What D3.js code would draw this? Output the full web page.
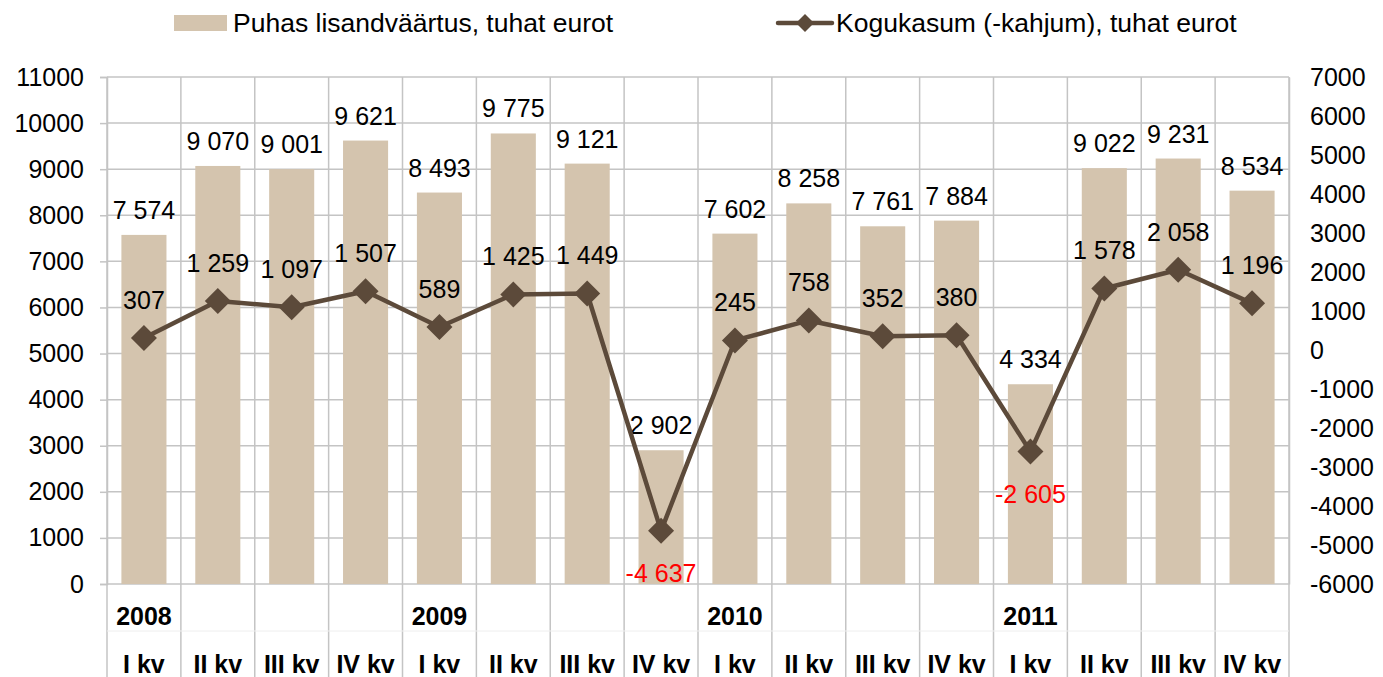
<!DOCTYPE html>
<html><head><meta charset="utf-8">
<script src="https://cdn.jsdelivr.net/npm/d3@7"></script>
<style>body{margin:0;background:#fff;} text{font-family:"Liberation Sans",Arial,sans-serif;}</style>
</head><body><svg id="c" width="1383" height="677"></svg>
<script>
const quarters = ["I kv","II kv","III kv","IV kv","I kv","II kv","III kv","IV kv","I kv","II kv","III kv","IV kv","I kv","II kv","III kv","IV kv"];
const years = ["2008","","","","2009","","","","2010","","","","2011","","",""];
const barValues = [7574,9070,9001,9621,8493,9775,9121,2902,7602,8258,7761,7884,4334,9022,9231,8534];
const lineValues = [307,1259,1097,1507,589,1425,1449,-4637,245,758,352,380,-2605,1578,2058,1196];
const leftTicks = [0,1000,2000,3000,4000,5000,6000,7000,8000,9000,10000,11000];
const rightTicks = [-6000,-5000,-4000,-3000,-2000,-1000,0,1000,2000,3000,4000,5000,6000,7000];
const barName = "Puhas lisandväärtus, tuhat eurot";
const lineName = "Kogukasum (-kahjum), tuhat eurot";

const svg = d3.select("#c");
const L = 107, R = 1289, T = 77, B = 584;
const barColor = "#D4C4AE", lineColor = "#5C4A3A", grid = "#C4C4C4";
const idx = d3.range(barValues.length);
const x = d3.scaleBand().domain(idx).range([L, R]).paddingInner(0).paddingOuter(0);
const yL = d3.scaleLinear().domain([0, 11000]).range([B, T]);
const yR = d3.scaleLinear().domain([-6000, 7000]).range([B, T]);
const fmt = v => (v < 0 ? "-" : "") + d3.format(",")(Math.abs(v)).replace(/,/g, " ");

// horizontal gridlines
svg.append("g").selectAll("line").data(leftTicks).join("line")
  .attr("x1", L).attr("x2", R).attr("y1", d => yL(d)).attr("y2", d => yL(d))
  .attr("stroke", grid).attr("stroke-width", 1.5);
// vertical category lines
svg.append("g").selectAll("line").data(d3.range(barValues.length + 1)).join("line")
  .attr("x1", d => L + d * x.bandwidth()).attr("x2", d => L + d * x.bandwidth())
  .attr("y1", T).attr("y2", 677)
  .attr("stroke", grid).attr("stroke-width", 1.5);
// faint separator between year and quarter rows
svg.append("line").attr("x1", L).attr("x2", R).attr("y1", 631).attr("y2", 631)
  .attr("stroke", "#EEEEEE").attr("stroke-width", 1);

// left axis
const axL = svg.append("g").attr("transform", `translate(${L},0)`)
  .call(d3.axisLeft(yL).tickValues(leftTicks).tickSize(7).tickFormat(d => d));
axL.select(".domain").attr("stroke", grid).attr("stroke-width", 1.5);
axL.selectAll(".tick line").attr("stroke", grid).attr("stroke-width", 1.5);
axL.selectAll(".tick text").attr("font-size", 25).attr("fill", "#000").attr("x", -23)
  .attr("font-family", "Liberation Sans, Arial, sans-serif");
// right axis
const axR = svg.append("g").attr("transform", `translate(${R},0)`)
  .call(d3.axisRight(yR).tickValues(rightTicks).tickSize(0).tickFormat(d => d));
axR.select(".domain").attr("stroke", grid).attr("stroke-width", 1.5);
axR.selectAll(".tick text").attr("font-size", 25).attr("fill", "#000").attr("x", 21)
  .attr("font-family", "Liberation Sans, Arial, sans-serif");

// bars
const bw = x.bandwidth() * 0.61;
svg.append("g").selectAll("rect").data(barValues).join("rect")
  .attr("x", (d, i) => x(i) + (x.bandwidth() - bw) / 2)
  .attr("width", bw)
  .attr("y", d => yL(d)).attr("height", d => yL(0) - yL(d))
  .attr("fill", barColor);

// bar labels
svg.append("g").selectAll("text").data(barValues).join("text")
  .attr("x", (d, i) => x(i) + x.bandwidth() / 2)
  .attr("y", d => yL(d) - 25 + 9)
  .attr("text-anchor", "middle").attr("font-size", 25).attr("fill", "#000")
  .text(d => fmt(d));

// line
const cx = i => x(i) + x.bandwidth() / 2;
svg.append("path").datum(lineValues)
  .attr("d", d3.line().x((d, i) => cx(i)).y(d => yR(d)))
  .attr("fill", "none").attr("stroke", lineColor).attr("stroke-width", 4.5)
  .attr("stroke-linejoin", "round");
const dia = 13;
svg.append("g").selectAll("path").data(lineValues).join("path")
  .attr("transform", (d, i) => `translate(${cx(i)},${yR(d)})`)
  .attr("d", `M0,${-dia}L${dia},0L0,${dia}L${-dia},0Z`)
  .attr("fill", lineColor);

// line labels
svg.append("g").selectAll("text").data(lineValues).join("text")
  .attr("x", (d, i) => cx(i))
  .attr("y", d => d < 0 ? yR(d) + 42 + 9 : yR(d) - 38 + 9)
  .attr("text-anchor", "middle").attr("font-size", 25)
  .attr("fill", d => d < 0 ? "#FF0000" : "#000")
  .text(d => fmt(d));

// category labels
svg.append("g").selectAll("text").data(years).join("text")
  .attr("x", (d, i) => cx(i)).attr("y", 625)
  .attr("text-anchor", "middle").attr("font-size", 25).attr("font-weight", "bold")
  .text(d => d);
svg.append("g").selectAll("text").data(quarters).join("text")
  .attr("x", (d, i) => cx(i)).attr("y", 673)
  .attr("text-anchor", "middle").attr("font-size", 25).attr("font-weight", "bold")
  .text(d => d);

// legend
svg.append("rect").attr("x", 174).attr("y", 15).attr("width", 53).attr("height", 16).attr("fill", barColor);
svg.append("text").attr("x", 233).attr("y", 32).attr("font-size", 26.5).text(barName);
svg.append("line").attr("x1", 778).attr("x2", 832).attr("y1", 23).attr("y2", 23)
  .attr("stroke", lineColor).attr("stroke-width", 4.5).attr("stroke-linecap", "round");
svg.append("path").attr("transform", "translate(805,23)")
  .attr("d", `M0,-9L9,0L0,9L-9,0Z`).attr("fill", lineColor);
svg.append("text").attr("x", 836).attr("y", 32).attr("font-size", 26.5).text(lineName);
</script></body></html>
